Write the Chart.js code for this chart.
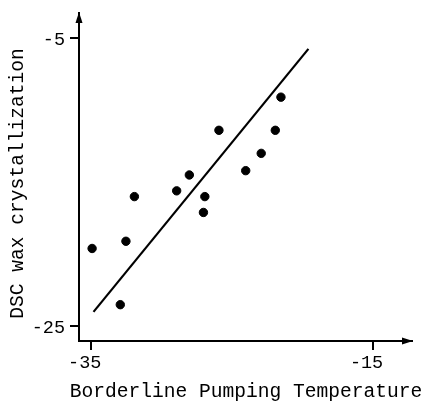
<!DOCTYPE html>
<html>
<head>
<meta charset="utf-8">
<script src="https://cdn.jsdelivr.net/npm/chart.js@4"></script>
<style>
html,body{margin:0;padding:0;background:#fff;}
#wrap{width:431px;height:402px;}
</style>
</head>
<body>
<div id="wrap"><canvas id="c" width="431" height="402"></canvas></div>
<script>
// Observed data: Borderline Pumping Temperature (x) vs DSC wax crystallization (y)
const bptX = [-34.9, -32.9, -32.5, -31.9, -28.9, -28.0, -26.9, -27.0, -25.9, -24.0, -22.9, -21.9, -21.5];
const dscY = [-19.6, -23.5, -19.1, -16.0, -15.6, -14.5, -16.0, -17.1, -11.4, -14.2, -13.0, -11.4, -9.1];
// Fitted regression line end points
const fitX = [-34.8, -19.55];
const fitY = [-24.0, -5.75];
// Axis ticks
const xTicks = [-35, -15];
const yTicks = [-5, -25];
const xTitle = 'Borderline Pumping Temperature';
const yTitle = 'DSC wax crystallization';

const FONT = "'Liberation Mono', 'DejaVu Sans Mono', monospace";

const decorPlugin = {
  id: 'decor',
  afterDraw(chart) {
    const {ctx, chartArea: a} = chart;
    ctx.save();
    ctx.fillStyle = '#000';
    // up arrow on y axis
    ctx.beginPath();
    ctx.moveTo(a.left, a.top - 1);
    ctx.lineTo(a.left - 3.5, a.top + 10);
    ctx.lineTo(a.left + 3.5, a.top + 10);
    ctx.closePath();
    ctx.fill();
    // right arrow on x axis
    ctx.beginPath();
    ctx.moveTo(a.right + 1, a.bottom);
    ctx.lineTo(a.right - 10, a.bottom - 3.5);
    ctx.lineTo(a.right - 10, a.bottom + 3.5);
    ctx.closePath();
    ctx.fill();
    // x axis title (drawn without width compression)
    ctx.font = '19.6px ' + FONT;
    ctx.textAlign = 'center';
    ctx.textBaseline = 'alphabetic';
    ctx.fillText(xTitle, 246, 397);
    // y axis title
    ctx.translate(18, 183.5);
    ctx.rotate(-Math.PI / 2);
    ctx.textBaseline = 'middle';
    ctx.fillText(yTitle, 0, 0);
    ctx.restore();
  }
};

new Chart(document.getElementById('c'), {
  type: 'scatter',
  data: {
    datasets: [
      {
        label: 'data',
        data: bptX.map((x, i) => ({x: x, y: dscY[i]})),
        backgroundColor: '#000',
        borderColor: '#000',
        pointRadius: 4.2,
        pointHoverRadius: 4.2,
        showLine: false
      },
      {
        label: 'fit',
        data: fitX.map((x, i) => ({x: x, y: fitY[i]})),
        borderColor: '#000',
        borderWidth: 2.2,
        pointRadius: 0,
        showLine: true,
        fill: false
      }
    ]
  },
  options: {
    responsive: false,
    animation: false,
    events: [],
    layout: {padding: {top: 13, right: 19, left: 0, bottom: 0}},
    plugins: {legend: {display: false}, tooltip: {enabled: false}},
    scales: {
      x: {
        type: 'linear',
        min: -35.83,
        max: -12.2,
        afterBuildTicks: s => { s.ticks = xTicks.map(v => ({value: v})); },
        afterFit: s => { s.height = 61; s.paddingLeft = 0; s.paddingRight = 0; },
        ticks: {
          color: '#000',
          font: {family: FONT, size: 18.5},
          padding: 2,
          labelOffset: -6,
          callback: v => String(v)
        },
        grid: {display: true, drawOnChartArea: false, drawTicks: true, tickLength: 9, color: '#000', lineWidth: 2},
        border: {display: true, color: '#000', width: 2},
        title: {display: false, text: xTitle}
      },
      y: {
        type: 'linear',
        min: -26.02,
        max: -3.26,
        afterBuildTicks: s => { s.ticks = yTicks.map(v => ({value: v})); },
        afterFit: s => { s.width = 79; s.paddingTop = 0; s.paddingBottom = 0; },
        ticks: {
          color: '#000',
          font: {family: FONT, size: 18.5},
          padding: 5,
          labelOffset: 2,
          callback: v => String(v)
        },
        grid: {display: true, drawOnChartArea: false, drawTicks: true, tickLength: 9, color: '#000', lineWidth: 2},
        border: {display: true, color: '#000', width: 2},
        title: {display: false, text: yTitle}
      }
    }
  },
  plugins: [decorPlugin]
});
</script>
</body>
</html>
